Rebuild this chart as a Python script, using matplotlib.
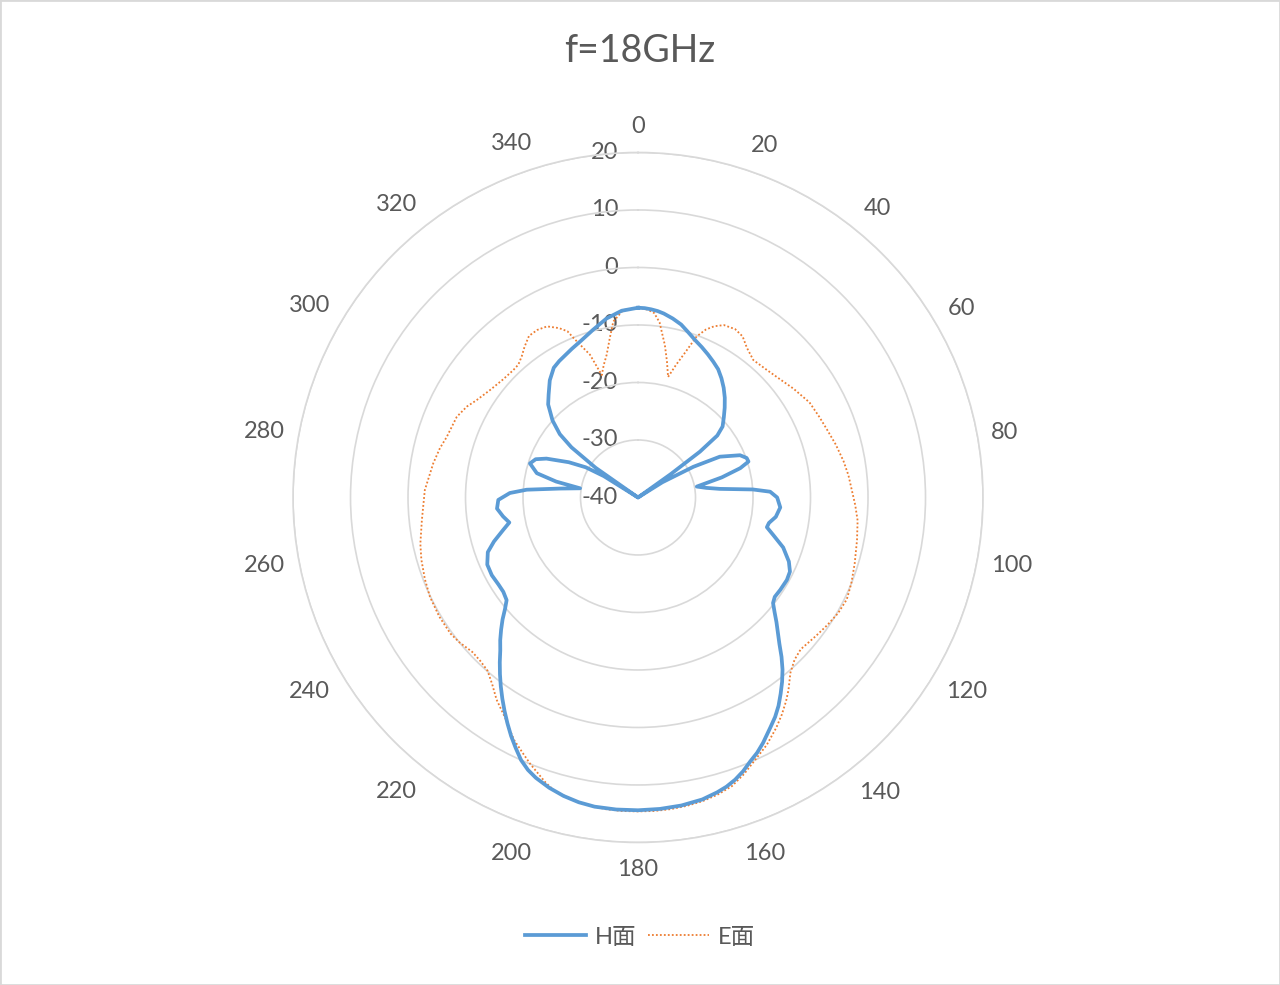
import matplotlib
matplotlib.use('Agg')
import matplotlib.pyplot as plt
import numpy as np
from matplotlib.transforms import offset_copy
from matplotlib.patches import Rectangle

plt.rcParams['font.family'] = ['Lato', 'Noto Sans CJK SC', 'DejaVu Sans']

title = "f=18GHz"
series_names = ["H面", "E面"]

h_angles = [0, 2, 4, 6, 8, 11, 14, 17, 20, 23, 26, 29, 32, 35, 38, 41, 44, 47,
            50, 52, 53.5, 54.5, 55.5,
            58, 61, 63.5, 67.5, 70, 72, 74, 76.5, 79.5, 82, 84, 86, 87.5, 90,
            94, 98, 101, 103, 105.5, 109, 113, 116, 119, 123, 126, 128, 130,
            132, 134, 136, 138, 140, 142, 144, 146, 148, 150, 153, 155, 157,
            159, 161, 163, 165, 168, 172, 176, 180, 184, 188, 191, 194, 197,
            200, 202, 204, 206, 208, 210, 212, 214, 216, 218, 220, 222, 224,
            226, 228, 230, 232, 235, 238, 242, 246, 250,
            253, 256.5, 259, 262, 265.5, 269, 272, 274, 276.5, 279, 281, 283.5,
            287.5, 290.5, 293, 297, 300, 302, 303.5, 305, 307, 309, 312, 316,
            319, 323, 327, 330, 333, 336, 340, 345, 350, 355, 360]
h_values = [-7.0, -7.05, -7.2, -7.4, -7.7, -8.3, -9.0, -10.0, -10.9, -11.6,
            -12.3, -13.0, -13.7, -14.7, -15.8, -17.0, -18.3, -19.6,
            -20.8, -22.5, -26.6, -33.0, -40.0,
            -35.0, -29.0, -24.1, -20.8, -19.9, -19.8, -21.5, -25.0, -29.6,
            -28.0, -25.7, -20.0, -17.0, -15.8,
            -15.2, -15.8, -16.8, -17.0, -15.6, -13.3, -11.5, -10.6, -10.4,
            -10.5, -10.6, -10.2, -9.0,
            -7.6, -6.2, -4.6, -2.7, -0.9, 0.7, 2.2, 3.7, 5.0, 6.1, 7.9, 9.0,
            9.9, 11.0, 11.9, 12.6, 13.1, 13.7, 14.1, 14.3, 14.4, 14.4, 14.3,
            14.0, 13.5, 12.8, 11.9, 11.1, 10.0, 8.5, 7.0, 5.4, 3.8, 2.2, 0.6,
            -1.0, -2.6, -4.2, -5.5, -6.9, -8.3, -9.8, -11.0, -11.4, -11.4,
            -11.2, -11.3, -12.2,
            -13.8, -15.9, -17.2, -16.3, -15.4, -15.7, -17.7, -20.6, -26.3,
            -29.8, -25.5, -21.9,
            -20.3, -21.0, -22.7, -26.5, -29.5, -33.0, -40.0, -31.0, -25.5,
            -22.5, -20.0, -17.5,
            -16.3, -14.5, -13.1, -12.6, -12.2, -11.7, -11.0, -9.8, -8.4, -7.4,
            -7.0]

e_angles = [0, 3, 5, 7, 10, 12, 14, 16, 18, 20, 22, 24, 26.5, 30, 33, 36, 40,
            45, 50, 55, 61, 66, 70, 75, 80, 84, 88, 92, 96, 101, 107, 112, 116,
            120, 124, 128, 133, 136, 139, 142, 144, 146.5, 149, 152.5, 156,
            159, 162, 165, 168, 171, 174, 177, 180, 183, 186, 189, 192, 194,
            196, 198, 200, 202, 204, 207, 209, 211, 215, 218, 221, 224, 227,
            231, 234, 239, 244.5, 249, 254, 258, 264, 272, 279.5, 284, 287.5,
            294, 298, 301, 306, 311, 315.5, 318, 320.5, 323, 326, 329, 332,
            335, 337, 338, 341.4, 343.5, 345.5, 347.6, 350, 352, 355.5, 360]
e_values = [-7.0, -7.3, -7.8, -9.3, -13.1, -15.8, -18.4, -16.0, -13.5, -10.2,
            -8.5, -7.4, -6.5, -6.2, -6.6, -7.8, -8.8,
            -8.5, -7.9, -7.0, -5.9, -5.5, -5.1, -4.4, -3.7, -3.2, -2.8, -2.2,
            -1.6, -1.2, -0.6, 0.0, 0.4,
            0.2, -0.3, -0.8, -1.3, -0.8, 0.4, 2.5, 3.8, 5.3, 6.7, 8.5, 10.0,
            11.5, 12.8, 13.5, 14.0, 14.3, 14.5, 14.6, 14.6, 14.6, 14.5, 14.2,
            13.8, 13.4, 13.0, 12.1, 11.0, 10.0, 8.9, 7.4, 6.1, 4.8, 2.9, 1.2,
            -0.1, -0.5, -0.6,
            0.0, 0.3, 0.3, 0.1, -0.3, -0.8, -1.3, -2.2, -2.9, -3.9, -4.5, -5.1,
            -5.5, -6.3, -7.2, -8.2, -8.8, -9.0, -8.9, -8.2, -7.2, -6.1, -6.0,
            -6.3, -7.5, -8.6, -10.1, -13.8, -17.8, -16.2, -14.6, -11.8, -9.1,
            -7.3, -7.0]

theta_ticks = list(range(0, 360, 20))
r_ticks = [-40, -30, -20, -10, 0, 10, 20]

TEXT = '#595959'
GRID = '#d9d9d9'

fig = plt.figure(figsize=(12.8, 9.85), dpi=100)
fig.patch.set_facecolor('white')
ax = fig.add_axes([0.2289, 0.1447, 0.5391, 0.7005], projection='polar')
ax.set_theta_zero_location('N')
ax.set_theta_direction(-1)

ax.plot(np.deg2rad(h_angles), h_values, color='#5B9BD5', lw=2.7,
        label=series_names[0], solid_joinstyle='round', zorder=3)
ax.plot(np.deg2rad(e_angles), e_values, color='#ED7D31', lw=1.3,
        ls=(0, (1, 1.2)), label=series_names[1], zorder=2)

ax.set_ylim(-40, 20)
ax.set_yticks(r_ticks)
ax.set_yticklabels([])
ax.set_xticks(np.deg2rad(theta_ticks))
ax.set_xticklabels([])
ax.tick_params(axis='both', length=0)
ax.xaxis.grid(False)
ax.yaxis.grid(True, color=GRID, lw=1.2)
ax.spines['polar'].set_color(GRID)
ax.spines['polar'].set_linewidth(1.2)

# radial value labels, left of the 0-degree direction
lab_tr = offset_copy(ax.transData, fig=fig, x=-20, y=0, units='dots')
for v in r_ticks:
    ax.text(0, v, str(v), transform=lab_tr, ha='right', va='center',
            fontsize=17, color=TEXT, zorder=1)

# angular labels, placed with a gap from the outer ring
theta_texts = []
for t in theta_ticks:
    txt = ax.text(np.deg2rad(t), r_ticks[-1], str(t), ha='center',
                  va='center', fontsize=17, color=TEXT)
    theta_texts.append((t, txt))
fig.canvas.draw()
renderer = fig.canvas.get_renderer()
for t, txt in theta_texts:
    bb = txt.get_window_extent(renderer=renderer)
    w, h = bb.width, bb.height * 0.62
    s, c = np.sin(np.deg2rad(t)), np.cos(np.deg2rad(t))
    dist = 13 + abs(s) * w / 2 + abs(c) * h / 2
    txt.set_transform(offset_copy(ax.transData, fig=fig, x=dist * s,
                                  y=dist * c + 7 * c - 1, units='dots'))

fig.text(0.5, 1 - 51.5 / 985, title, ha='center', va='center',
         fontsize=27, color=TEXT)

fig.legend(loc='center', bbox_to_anchor=(0.5, 1 - 937 / 985), ncol=2,
           frameon=False, fontsize=17, handlelength=2.6, labelcolor=TEXT,
           columnspacing=0.5, handletextpad=0.35)

fig.add_artist(Rectangle((0, 0), 1, 1, transform=fig.transFigure, fill=False,
                         edgecolor=GRID, lw=2))

fig.savefig('out.png', dpi=100, facecolor='white')
